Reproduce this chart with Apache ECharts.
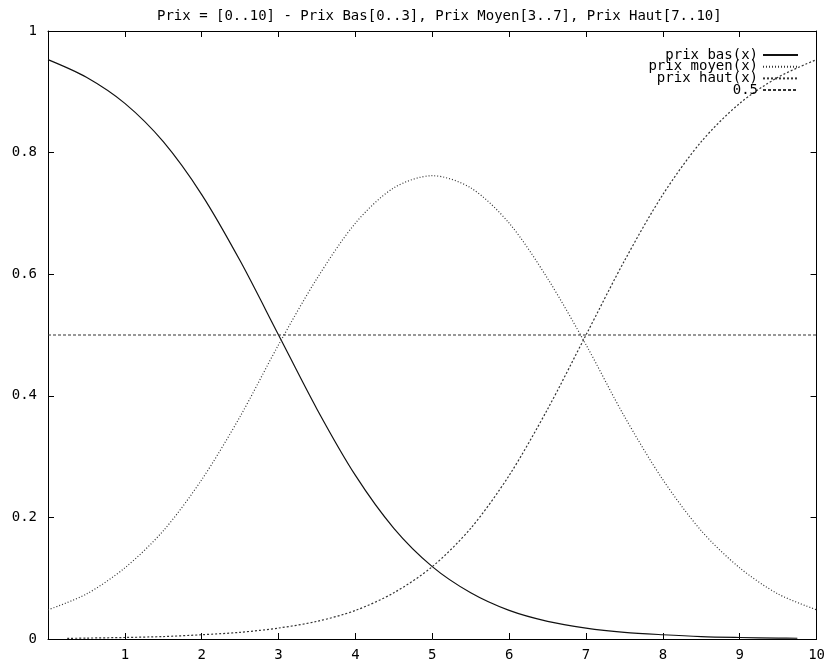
<!DOCTYPE html>
<html>
<head>
<meta charset="utf-8">
<script src="https://cdn.jsdelivr.net/npm/echarts@6/dist/echarts.min.js"></script>
<style>
html,body{margin:0;padding:0;background:#fff;}
#chart{width:828px;height:663px;}
</style>
</head>
<body>
<div id="chart"></div>
<script>
// ---- data ----
const titleText = 'Prix = [0..10] - Prix Bas[0..3], Prix Moyen[3..7], Prix Haut[7..10]';
const seriesNames = ['prix bas(x)', 'prix moyen(x)', 'prix haut(x)', '0.5'];

const basX = [0,0.5,1,1.5,2,2.5,3,3.5,4,4.5,5,5.5,6,6.5,7,7.5,8,8.5,9,9.5,9.75];
const basY = [0.953,0.924,0.881,0.818,0.731,0.622,0.5,0.378,0.269,0.182,0.119,0.076,0.047,0.029,0.018,0.011,0.007,0.004,0.0025,0.0015,0.0012];

const moyenX = [0,0.5,1,1.5,2,2.5,3,3.5,4,4.5,5,5.5,6,6.5,7,7.5,8,8.5,9,9.5,10];
const moyenY = [0.048,0.074,0.117,0.178,0.262,0.366,0.484,0.593,0.684,0.742,0.762,0.742,0.684,0.593,0.484,0.366,0.262,0.178,0.117,0.074,0.048];

const hautX = [0.25,0.5,1,1.5,2,2.5,3,3.5,4,4.5,5,5.5,6,6.5,7,7.5,8,8.5,9,9.5,10];
const hautY = [0.001,0.0015,0.0025,0.004,0.007,0.011,0.018,0.029,0.047,0.076,0.119,0.182,0.269,0.378,0.5,0.622,0.731,0.818,0.881,0.924,0.953];

const constX = [0,10];
const constY = [0.5,0.5];

const xTicks = {min:0, max:10, interval:1};
const yTicks = {min:0, max:1, interval:0.2};

// ---- build ----
function pairs(xs, ys){ return xs.map((x,i)=>[x, ys[i]]); }
const FONT = 'DejaVu Sans Mono';
const chart = echarts.init(document.getElementById('chart'), null, {renderer:'canvas'});

const axisCommon = {
  type:'value',
  axisLine:{show:true, onZero:false, lineStyle:{color:'#000', width:1}},
  axisTick:{show:true, inside:true, length:6, lineStyle:{color:'#000', width:1}},
  splitLine:{show:false}
};

chart.setOption({
  animation:false,
  backgroundColor:'#fff',
  title:{
    text:titleText, left:152, top:4,
    textStyle:{fontFamily:FONT, fontSize:14, fontWeight:'normal', color:'#000'}
  },
  legend:{
    orient:'vertical', right:29, top:48, align:'right',
    itemWidth:35, itemHeight:12, itemGap:-2.3, padding:0,
    itemStyle:{opacity:0},
    textStyle:{fontFamily:FONT, fontSize:14, lineHeight:12, color:'#000'},
    data:seriesNames
  },
  grid:{left:48, right:10, top:31, bottom:24, containLabel:false},
  xAxis:[
    Object.assign({}, axisCommon, {position:'bottom', min:xTicks.min, max:xTicks.max, interval:xTicks.interval,
      axisLabel:{show:true, margin:9, fontFamily:FONT, fontSize:14, color:'#000',
        formatter:v=> v===0 ? '' : String(v)}}),
    Object.assign({}, axisCommon, {position:'top', min:xTicks.min, max:xTicks.max, interval:xTicks.interval,
      axisLabel:{show:false}})
  ],
  yAxis:[
    Object.assign({}, axisCommon, {position:'left', min:yTicks.min, max:yTicks.max, interval:yTicks.interval,
      axisLabel:{show:true, margin:11, fontFamily:FONT, fontSize:14, color:'#000'}}),
    Object.assign({}, axisCommon, {position:'right', min:yTicks.min, max:yTicks.max, interval:yTicks.interval,
      axisLabel:{show:false}})
  ],
  series:[
    {name:seriesNames[0], type:'line', data:pairs(basX,basY), smooth:0.3, symbol:'none',
      lineStyle:{color:'#111', width:1.2, type:'solid'}, itemStyle:{color:'#111'}},
    {name:seriesNames[1], type:'line', data:pairs(moyenX,moyenY), smooth:0.3, symbol:'none',
      lineStyle:{color:'#333', width:1.2, type:[1,2]}, itemStyle:{color:'#333'}},
    {name:seriesNames[2], type:'line', data:pairs(hautX,hautY), smooth:0.3, symbol:'none',
      lineStyle:{color:'#333', width:1.2, type:[2,2]}, itemStyle:{color:'#333'}},
    {name:seriesNames[3], type:'line', data:pairs(constX,constY), symbol:'none',
      lineStyle:{color:'#333', width:1.2, type:[3,2]}, itemStyle:{color:'#333'}}
  ]
});
</script>
</body>
</html>
